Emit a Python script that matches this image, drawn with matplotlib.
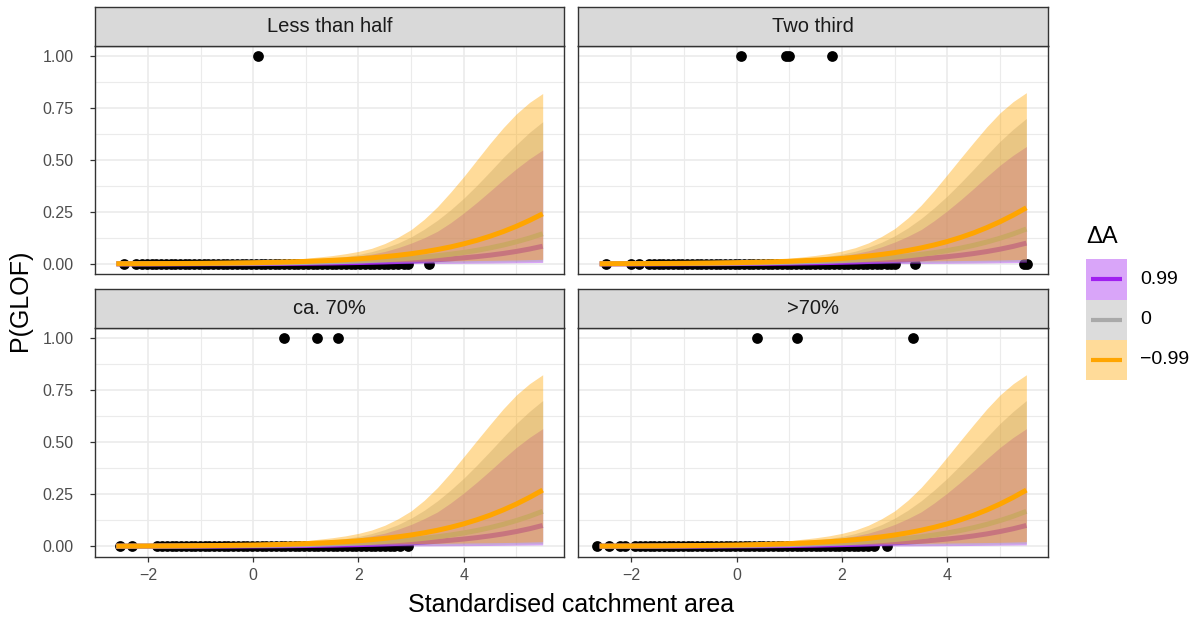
import numpy as np
import matplotlib.pyplot as plt

plt.rcParams['font.family'] = ['Liberation Sans', 'DejaVu Sans']

# prediction grid along standardised catchment area
x_grid = [-2.6, -2.0, -1.5, -1.0, -0.5, 0.0, 0.5, 1.0, 1.5, 1.75, 2.0, 2.25, 2.5, 2.75, 3.0,
          3.25, 3.5, 3.75, 4.0, 4.25, 4.5, 4.75, 5.0, 5.25, 5.5]

# lower credible bounds (nearly zero everywhere)
orange_lo = [0.0004, 0.0006, 0.0009, 0.0013, 0.0020, 0.0028, 0.0040, 0.0055, 0.0070, 0.0080,
             0.0090, 0.0100, 0.0110, 0.0118, 0.0125, 0.0133, 0.0140, 0.0148, 0.0155, 0.0163,
             0.0170, 0.0180, 0.0190, 0.0205, 0.0220]
grey_lo = [0.0003, 0.0004, 0.0006, 0.0008, 0.0012, 0.0016, 0.0021, 0.0027, 0.0034, 0.0037,
           0.0041, 0.0045, 0.0049, 0.0052, 0.0056, 0.0060, 0.0063, 0.0068, 0.0074, 0.0080,
           0.0086, 0.0095, 0.0105, 0.0117, 0.0130]
purple_lo = [0.0001, 0.0001, 0.0001, 0.0002, 0.0002, 0.0003, 0.0004, 0.0005, 0.0007, 0.0008,
             0.0009, 0.0010, 0.0012, 0.0014, 0.0017, 0.0020, 0.0023, 0.0026, 0.0030, 0.0035,
             0.0040, 0.0047, 0.0055, 0.0062, 0.0070]

# "Less than half"
orange_up_a = [0.001, 0.002, 0.003, 0.005, 0.008, 0.012, 0.018, 0.027, 0.040, 0.049,
               0.060, 0.075, 0.098, 0.128, 0.165, 0.215, 0.275, 0.345, 0.420, 0.500,
               0.580, 0.655, 0.722, 0.777, 0.820]
orange_mid_a = [0.0010, 0.0013, 0.0019, 0.0027, 0.0040, 0.0057, 0.0083, 0.0120, 0.0171, 0.0204,
                0.0244, 0.0291, 0.0348, 0.0413, 0.0491, 0.0583, 0.0692, 0.0817, 0.0966, 0.1135,
                0.1332, 0.1555, 0.1809, 0.2094, 0.241]
grey_up_a = [0.0008, 0.0013, 0.002, 0.003, 0.0045, 0.007, 0.011, 0.018, 0.028, 0.035,
             0.045, 0.059, 0.077, 0.100, 0.130, 0.167, 0.210, 0.260, 0.316, 0.378,
             0.444, 0.512, 0.574, 0.633, 0.684]
grey_mid_a = [0.0005, 0.0008, 0.0012, 0.0017, 0.0024, 0.0034, 0.0049, 0.0069, 0.0098, 0.0117,
              0.0139, 0.0166, 0.0198, 0.0235, 0.0279, 0.0332, 0.0394, 0.0467, 0.0552, 0.0653,
              0.0770, 0.0906, 0.1063, 0.1244, 0.145]
purple_up_a = [0.0005, 0.0009, 0.0014, 0.0022, 0.0035, 0.0055, 0.009, 0.014, 0.023, 0.029,
               0.037, 0.047, 0.060, 0.078, 0.100, 0.126, 0.157, 0.198, 0.245, 0.296,
               0.350, 0.405, 0.458, 0.506, 0.548]
purple_mid_a = [0.0002, 0.0003, 0.0005, 0.0007, 0.0010, 0.0015, 0.0022, 0.0032, 0.0046, 0.0056,
                0.0067, 0.0081, 0.0097, 0.0117, 0.0140, 0.0169, 0.0203, 0.0244, 0.0293, 0.0351,
                0.0420, 0.0503, 0.0600, 0.0716, 0.085]

# "Two third", "ca. 70%", ">70%"
orange_up_b = [0.001, 0.002, 0.003, 0.005, 0.008, 0.012, 0.018, 0.027, 0.041, 0.050,
               0.062, 0.078, 0.101, 0.132, 0.170, 0.221, 0.282, 0.353, 0.430, 0.508,
               0.585, 0.660, 0.727, 0.781, 0.824]
orange_mid_b = [0.0009, 0.0014, 0.0020, 0.0029, 0.0042, 0.0061, 0.0088, 0.0127, 0.0184, 0.0221,
                0.0265, 0.0318, 0.0381, 0.0455, 0.0543, 0.0647, 0.0769, 0.0912, 0.1078, 0.1272,
                0.1493, 0.1746, 0.2030, 0.2349, 0.270]
grey_up_b = [0.0008, 0.0013, 0.002, 0.003, 0.0045, 0.007, 0.011, 0.018, 0.029, 0.037,
             0.047, 0.061, 0.080, 0.104, 0.135, 0.173, 0.218, 0.270, 0.327, 0.390,
             0.456, 0.524, 0.590, 0.648, 0.700]
grey_mid_b = [0.0006, 0.0009, 0.0013, 0.0019, 0.0027, 0.0038, 0.0055, 0.0078, 0.0112, 0.0134,
              0.0160, 0.0191, 0.0228, 0.0271, 0.0323, 0.0384, 0.0457, 0.0542, 0.0642, 0.0759,
              0.0895, 0.1053, 0.1235, 0.1443, 0.168]
purple_up_b = [0.0005, 0.0009, 0.0014, 0.0022, 0.0035, 0.0055, 0.009, 0.014, 0.024, 0.031,
               0.039, 0.050, 0.063, 0.082, 0.105, 0.133, 0.165, 0.208, 0.256, 0.308,
               0.363, 0.420, 0.475, 0.523, 0.565]
purple_mid_b = [0.0003, 0.0004, 0.0006, 0.0008, 0.0012, 0.0018, 0.0026, 0.0038, 0.0055, 0.0066,
                0.0080, 0.0096, 0.0116, 0.0139, 0.0168, 0.0201, 0.0242, 0.0291, 0.0348, 0.0417,
                0.0499, 0.0595, 0.0709, 0.0843, 0.100]

# observed lakes: GLOF (1) and no GLOF (0)
half_glof = [0.10]
half_none = [-2.46, -2.23, -2.12, -2.02, -1.93, -1.84, -1.75, -1.66, -1.57, -1.48, -1.39, -1.30,
             -1.21, -1.12, -1.03, -0.94, -0.85, -0.76, -0.67, -0.58, -0.49, -0.40, -0.31, -0.22,
             -0.13, -0.04, 0.05, 0.14, 0.23, 0.32, 0.41, 0.50, 0.59, 0.68, 0.77, 0.86, 0.95, 1.04,
             1.13, 1.22, 1.31, 1.40, 1.49, 1.58, 1.67, 1.76, 1.85, 1.94, 2.03, 2.12, 2.21, 2.30,
             2.39, 2.48, 2.57, 2.66, 2.75, 2.86, 2.95, 3.34]
third_glof = [0.09, 0.94, 1.00, 1.82]
third_none = [-2.47, -2.01, -1.86, -1.66, -1.57, -1.48, -1.39, -1.30, -1.21, -1.12, -1.03, -0.94,
              -0.85, -0.76, -0.67, -0.58, -0.49, -0.40, -0.31, -0.22, -0.13, -0.04, 0.05, 0.14,
              0.23, 0.32, 0.41, 0.50, 0.59, 0.68, 0.77, 0.86, 0.95, 1.04, 1.13, 1.22, 1.31, 1.40,
              1.49, 1.58, 1.67, 1.76, 1.85, 1.94, 2.03, 2.12, 2.21, 2.30, 2.39, 2.48, 2.57, 2.66,
              2.75, 2.85, 2.93, 3.01, 3.38, 5.45, 5.52]
ca70_glof = [0.58, 1.21, 1.61]
ca70_none = [-2.53, -2.31, -1.82, -1.73, -1.64, -1.55, -1.46, -1.37, -1.28, -1.19, -1.10, -1.01,
             -0.92, -0.83, -0.74, -0.65, -0.56, -0.47, -0.38, -0.29, -0.20, -0.11, -0.02, 0.07,
             0.16, 0.25, 0.34, 0.43, 0.52, 0.61, 0.70, 0.79, 0.88, 0.97, 1.06, 1.15, 1.24, 1.33,
             1.42, 1.51, 1.60, 1.69, 1.78, 1.87, 1.96, 2.05, 2.14, 2.23, 2.32, 2.41, 2.50, 2.59,
             2.68, 2.78, 2.95]
over70_glof = [0.38, 1.14, 3.35]
over70_none = [-2.65, -2.42, -2.21, -2.12, -1.92, -1.83, -1.74, -1.65, -1.56, -1.47, -1.38, -1.29,
               -1.20, -1.11, -1.02, -0.93, -0.84, -0.75, -0.66, -0.57, -0.48, -0.39, -0.30, -0.21,
               -0.12, -0.03, 0.06, 0.15, 0.24, 0.33, 0.42, 0.51, 0.60, 0.69, 0.78, 0.87, 0.96,
               1.05, 1.14, 1.23, 1.32, 1.41, 1.50, 1.59, 1.68, 1.77, 1.86, 1.95, 2.04, 2.13, 2.22,
               2.31, 2.40, 2.49, 2.60, 2.85]

panel_names = ["Less than half", "Two third", "ca. 70%", ">70%"]
delta_labels = ["0.99", "0", "\u22120.99"]
line_cols = ["#A020F0", "#A9A9A9", "#FFA500"]

set_a = [(purple_lo, purple_mid_a, purple_up_a), (grey_lo, grey_mid_a, grey_up_a),
         (orange_lo, orange_mid_a, orange_up_a)]
set_b = [(purple_lo, purple_mid_b, purple_up_b), (grey_lo, grey_mid_b, grey_up_b),
         (orange_lo, orange_mid_b, orange_up_b)]
panels = [(half_glof, half_none, set_a), (third_glof, third_none, set_b),
          (ca70_glof, ca70_none, set_b), (over70_glof, over70_none, set_b)]

W, H = 1203, 621
fig = plt.figure(figsize=(W / 100, H / 100), dpi=100)

# panel boxes in pixels: left, top, right, bottom
boxes = [(95, 45.7, 564, 274.3), (578.3, 45.7, 1047.7, 274.3),
         (95, 327.7, 564, 556.7), (578.3, 327.7, 1047.7, 556.7)]
strip_h = 38.5

for i, (name, (glof, none, curves), (l, t, r, b)) in enumerate(zip(panel_names, panels, boxes)):
    ax = fig.add_axes([l / W, 1 - b / H, (r - l) / W, (b - t) / H])
    ax.set_xlim(-3.005, 5.905)
    ax.set_ylim(-0.05, 1.05)
    ax.set_xticks([-2, 0, 2, 4])
    ax.set_xticks([-1, 1, 3, 5], minor=True)
    ax.set_yticks([0, 0.25, 0.5, 0.75, 1.0])
    ax.set_yticks([0.125, 0.375, 0.625, 0.875], minor=True)
    ax.set_yticklabels(["0.00", "0.25", "0.50", "0.75", "1.00"])
    ax.grid(which='major', color='#EBEBEB', linewidth=1.2, zorder=0)
    ax.grid(which='minor', color='#EBEBEB', linewidth=0.8, zorder=0)
    ax.set_axisbelow(True)
    for s in ax.spines.values():
        s.set_color('#333333')
        s.set_linewidth(1.0)
    ax.tick_params(which='major', length=3.8, width=0.9, color='#333333',
                   labelsize=11.5, labelcolor='#4D4D4D', pad=4.5)
    ax.tick_params(axis='y', which='major', pad=11.5)
    ax.tick_params(which='minor', length=0)
    if i < 2:
        ax.tick_params(axis='x', which='major', length=0, labelbottom=False)
    if i % 2 == 1:
        ax.tick_params(axis='y', which='major', length=0, labelleft=False)

    # observations under the fitted curves
    ax.scatter(none, [0] * len(none), s=60, color='black', linewidths=0, zorder=2)
    ax.scatter(glof, [1] * len(glof), s=60, color='black', linewidths=0, zorder=2)

    # ribbons and median lines, one delta-A level at a time
    for k, ((lo, mid, up), col) in enumerate(zip(curves, line_cols)):
        ax.fill_between(x_grid, lo, up, color=col, alpha=0.4, linewidth=0, zorder=3 + 2 * k)
        ax.plot(x_grid, mid, color=col, linewidth=3.6, solid_capstyle='butt', zorder=4 + 2 * k)

    # facet strip
    sax = fig.add_axes([l / W, 1 - t / H, (r - l) / W, strip_h / H])
    sax.set_facecolor('#D9D9D9')
    sax.set_xticks([])
    sax.set_yticks([])
    for s in sax.spines.values():
        s.set_color('#333333')
        s.set_linewidth(1.0)
    sax.text(0.5, 0.5, name, ha='center', va='center', fontsize=14.5, color='#1A1A1A',
             transform=sax.transAxes)

fig.text(571 / W, 1 - 605 / H, "Standardised catchment area", ha='center', va='center', fontsize=18)
fig.text(20 / W, 1 - 300 / H, "P(GLOF)", ha='center', va='center', rotation=90, fontsize=18)

# legend for delta A
lax = fig.add_axes([1086 / W, 1 - 380 / H, 41 / W, 120.7 / H])
lax.set_xlim(0, 1)
lax.set_ylim(0, 3)
lax.axis('off')
for k, (lab, col) in enumerate(zip(delta_labels, line_cols)):
    y0 = 2 - k
    lax.axhspan(y0, y0 + 1, color=col, alpha=0.4, linewidth=0)
    lax.plot([0.11, 0.89], [y0 + 0.5, y0 + 0.5], color=col, linewidth=3.0, solid_capstyle='butt')
    lax.text(1.32, y0 + 0.5, lab, ha='left', va='center', fontsize=14)
fig.text(1086 / W, 1 - 237 / H, "\u0394A", ha='left', va='center', fontsize=17)

fig.savefig("out.png", dpi=100)
